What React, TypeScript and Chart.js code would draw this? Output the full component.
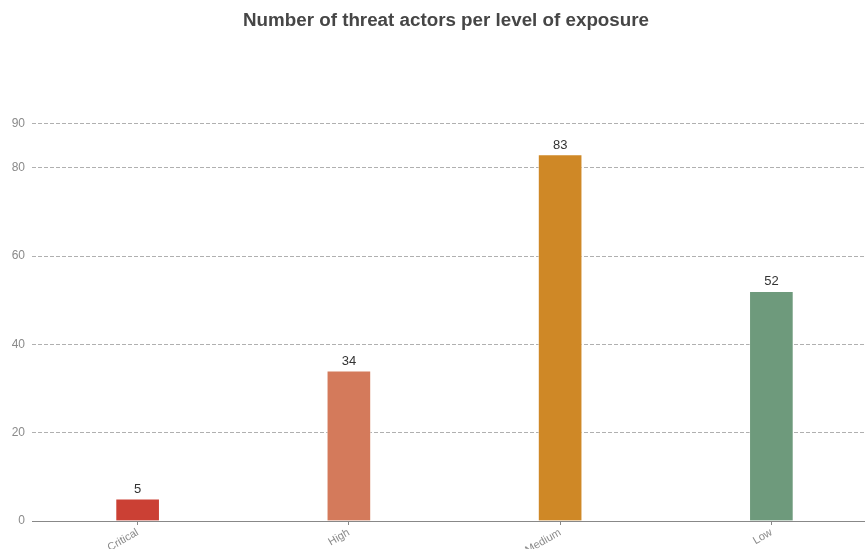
import React, { useEffect, useRef } from "react";
import { Chart, registerables } from "chart.js";

Chart.register(...registerables);

const chartTitle = "Number of threat actors per level of exposure";
const categories = ["Critical", "High", "Medium", "Low"];
const actorCounts = [5, 34, 83, 52];
const barColors = ["#cb4034", "#d47a5b", "#cf8826", "#6e9a7c"];
const yTickValues = [0, 20, 40, 60, 80, 90];

const FONT = "'Liberation Sans', Arial, Helvetica, sans-serif";

// Bold heading centred over the page, drawn in the reserved top space.
const headingPlugin = {
  id: "heading",
  afterDraw(chart: any) {
    const { ctx } = chart;
    ctx.save();
    ctx.font = `bold 18.8px ${FONT}`;
    ctx.fillStyle = "#464646";
    ctx.textAlign = "center";
    ctx.textBaseline = "middle";
    ctx.fillText(chartTitle, 446, 21);
    ctx.restore();
  },
};

// Count printed above every bar.
const valueLabels = {
  id: "valueLabels",
  afterDatasetsDraw(chart: any) {
    const { ctx } = chart;
    const meta = chart.getDatasetMeta(0);
    const data = chart.data.datasets[0].data;
    ctx.save();
    ctx.font = `13px ${FONT}`;
    ctx.fillStyle = "#333333";
    ctx.textAlign = "center";
    ctx.textBaseline = "bottom";
    meta.data.forEach((bar: any, i: number) => {
      ctx.fillText(String(data[i]), bar.x, bar.y - 3);
    });
    ctx.restore();
  },
};

export default function App() {
  const canvasRef = useRef<HTMLCanvasElement | null>(null);

  useEffect(() => {
    if (!canvasRef.current) return;
    const chart = new Chart(canvasRef.current, {
      type: "bar",
      data: {
        labels: categories,
        datasets: [
          {
            data: actorCounts,
            backgroundColor: barColors,
            borderColor: "rgba(255,255,255,0.45)",
            borderWidth: 1,
            barThickness: 44,
          },
        ],
      },
      options: {
        responsive: false,
        animation: false,
        layout: { padding: { left: 0, right: 17, top: 123.6, bottom: 0 } },
        plugins: {
          legend: { display: false },
          tooltip: { enabled: false },
          title: { display: false },
        },
        scales: {
          x: {
            offset: true,
            grid: {
              offset: false,
              drawOnChartArea: false,
              drawTicks: true,
              tickLength: 4,
              color: "#888888",
            },
            border: { display: true, color: "#888888", width: 1 },
            ticks: {
              minRotation: 30,
              maxRotation: 30,
              autoSkip: false,
              padding: 1,
              color: "#8a8a8a",
              font: { family: FONT, size: 11 },
            },
            afterFit(scale: any) {
              scale.height = 28;
            },
          },
          y: {
            min: 0,
            max: 90,
            grid: {
              drawTicks: false,
              color: (c: any) => (c.tick && c.tick.value === 0 ? "rgba(0,0,0,0)" : "#b0b0b0"),
            },
            border: { display: false, dash: [4, 2] },
            ticks: {
              padding: 7,
              color: "#8a8a8a",
              font: { family: FONT, size: 12 },
            },
            afterBuildTicks(scale: any) {
              scale.ticks = yTickValues.map((v) => ({ value: v }));
            },
            afterFit(scale: any) {
              scale.width = 32;
            },
          },
        },
      },
      plugins: [valueLabels, headingPlugin],
    });
    return () => chart.destroy();
  }, []);

  return (
    <div
      style={{
        position: "fixed",
        left: 0,
        top: 0,
        width: 865,
        height: 549,
        overflow: "hidden",
        background: "#ffffff",
      }}
    >
      <canvas ref={canvasRef} width={894} height={549} style={{ width: 894, height: 549 }} />
    </div>
  );
}
